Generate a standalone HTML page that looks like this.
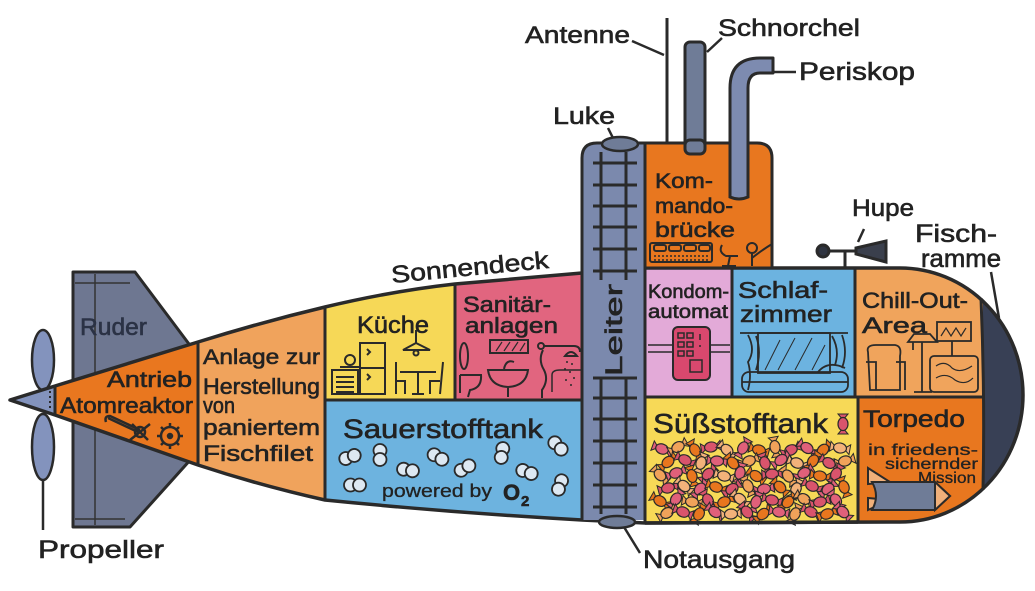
<!DOCTYPE html>
<html><head><meta charset="utf-8"><style>
html,body{margin:0;padding:0;background:#fff;}
svg{display:block;}
text{font-family:"Liberation Sans",sans-serif;fill:#222;stroke:#222;stroke-width:0.6;}
</style></head><body>
<svg width="1035" height="591" viewBox="0 0 1035 591" xmlns="http://www.w3.org/2000/svg">
<defs>
<clipPath id="hull"><path d="M10,400 L55,386 L198,342 Q262,322 325,307 Q392,291 455,284 L582,273 L645,268 L900,268 A123,127 0 0 1 900,522 L645,523 L582,520 Q455,513 325,500 Q262,486 198,465 L55,415 Z"/></clipPath>
<g id="cd"><path d="M-10,-5 L-4,0 L-10,5 Z M10,-5 L4,0 L10,5 Z" stroke="#2a2a2a" stroke-width="1"/><ellipse rx="6.5" ry="5" stroke="#2a2a2a" stroke-width="1.2"/></g>
<g id="o2"><circle cx="-4.5" cy="0" r="6.5" fill="#dde8f2" stroke="#2a2a2a" stroke-width="1.8"/><circle cx="4.5" cy="0" r="6.5" fill="#dde8f2" stroke="#2a2a2a" stroke-width="1.8"/></g>
</defs>

<!-- fin -->
<polygon points="73,272 135,272 192,348 192,458 130,527 73,527" fill="#6e7791" stroke="#2a2a2a" stroke-width="3" stroke-linejoin="round"/>
<path d="M95,274 L95,525 M75,283 L130,283 M75,519 L125,519" stroke="#333" stroke-width="1.5" fill="none"/>

<!-- propeller -->
<line x1="43" y1="478" x2="43" y2="530" stroke="#2a2a2a" stroke-width="2.5"/>
<ellipse cx="43" cy="360" rx="11" ry="30" fill="#8393bd" stroke="#2a2a2a" stroke-width="2.5"/>
<ellipse cx="43" cy="447" rx="11" ry="33" fill="#8393bd" stroke="#2a2a2a" stroke-width="2.5"/>

<!-- hull sections -->
<g clip-path="url(#hull)">
<rect x="0" y="250" width="55" height="300" fill="#8393bd"/>
<rect x="55" y="250" width="143" height="300" fill="#e9771f"/>
<rect x="198" y="250" width="127" height="300" fill="#f0a35c"/>
<rect x="325" y="250" width="130" height="150" fill="#f6d857"/>
<rect x="455" y="250" width="127" height="150" fill="#e1657f"/>
<rect x="325" y="400" width="257" height="150" fill="#6db3df"/>
<rect x="645" y="250" width="87" height="147" fill="#e3aad8"/>
<rect x="732" y="250" width="123" height="147" fill="#6cb3e0"/>
<rect x="855" y="250" width="128" height="147" fill="#f0a45c"/>
<rect x="983" y="250" width="60" height="300" fill="#384055"/>
<rect x="645" y="397" width="213" height="150" fill="#f7d957"/>
<rect x="858" y="397" width="125" height="150" fill="#e8771f"/>
</g>

<!-- dividers -->
<g stroke="#2a2a2a" stroke-width="3" fill="none">
<path d="M55,386 L55,415 M198,342 L198,465 M325,307 L325,500 M455,284 L455,400 M325,400 L582,400 M732,268 L732,397 M855,268 L855,397 M645,397 L983,397 M858,397 L858,522 M981,298 Q985,395 983,490"/>
</g>
<path d="M50,391 L50,411" stroke="#2a2a2a" stroke-width="2" stroke-dasharray="2,3"/>

<!-- hull outline -->
<path d="M10,400 L55,386 L198,342 Q262,322 325,307 Q392,291 455,284 L582,273 L645,268 L900,268 A123,127 0 0 1 900,522 L645,523 L582,520 Q455,513 325,500 Q262,486 198,465 L55,415 Z" fill="none" stroke="#2a2a2a" stroke-width="3.5" stroke-linejoin="round"/>

<!-- antenna, snorkel, periscope -->
<line x1="667" y1="18" x2="667" y2="145" stroke="#2a2a2a" stroke-width="3"/>
<rect x="685" y="42" width="20" height="112" rx="5" fill="#6f7c97" stroke="#2a2a2a" stroke-width="3"/>
<path d="M730,197 L730,88 Q730,58 760,58 L773,58 L773,73 L760,73 Q748,73 748,88 L748,197 Z" fill="#7d8bb0" stroke="#2a2a2a" stroke-width="3" stroke-linejoin="round"/>

<!-- tower -->
<path d="M645,143 L757,143 Q772,143 772,158 L772,268 L645,268 Z" fill="#e8771f" stroke="#2a2a2a" stroke-width="3"/>
<path d="M582,520 L582,158 Q582,143 597,143 L645,143 L645,520" fill="#7b89ad" stroke="#2a2a2a" stroke-width="3"/>
<rect x="700" y="150" width="10" height="6" fill="none"/>
<!-- snorkel / periscope overlap the bridge -->
<rect x="685" y="140" width="20" height="14" rx="5" fill="#6f7c97" stroke="#2a2a2a" stroke-width="3"/>
<path d="M730,140 L730,197 Q739,201 748,197 L748,140" fill="#7d8bb0" stroke="#2a2a2a" stroke-width="3"/>

<!-- ladder -->
<g stroke="#2a2a2a" stroke-width="3" fill="none">
<path d="M601,152 L601,280 M626,152 L626,280 M601,378 L601,514 M626,378 L626,514"/>
<path d="M593,163 L637,163 M593,185 L637,185 M593,206 L637,206 M593,227 L637,227 M593,249 L637,249 M593,271 L637,271 M593,378 L637,378 M593,398 L637,398 M593,419 L637,419 M593,441 L637,441 M593,463 L637,463 M593,485 L637,485 M593,507 L637,507"/>
</g>
<ellipse cx="620" cy="144" rx="18" ry="7" fill="#6f7c97" stroke="#2a2a2a" stroke-width="2.5"/>
<ellipse cx="617" cy="522" rx="18" ry="6" fill="#6f7c97" stroke="#2a2a2a" stroke-width="2.5"/>

<!-- horn -->
<g stroke="#2a2a2a" stroke-width="3" fill="#2f3440">
<line x1="845" y1="250" x2="845" y2="268"/>
<line x1="823" y1="251" x2="858" y2="251"/>
<circle cx="823" cy="251" r="6"/>
<path d="M856,248 L886,241 L886,262 L856,254 Z" fill="#3a3f4c"/>
</g>

<!-- leader lines -->
<g stroke="#2a2a2a" stroke-width="2.5" fill="none">
<path d="M632,41 L664,55 M707,52 L722,38 M774,72 L796,72 M608,128 L613,138 M858,242 L864,229 M991,272 L999,318 M624,527 L640,553"/>
</g>

<!-- outer labels -->
<text x="525" y="43" font-size="24" textLength="105" lengthAdjust="spacingAndGlyphs">Antenne</text>
<text x="718" y="36" font-size="24" textLength="142" lengthAdjust="spacingAndGlyphs">Schnorchel</text>
<text x="799" y="80" font-size="25" textLength="116" lengthAdjust="spacingAndGlyphs">Periskop</text>
<text x="553" y="124" font-size="24" textLength="62" lengthAdjust="spacingAndGlyphs">Luke</text>
<text x="852" y="216" font-size="24" textLength="62" lengthAdjust="spacingAndGlyphs">Hupe</text>
<text x="915" y="242" font-size="25" textLength="82" lengthAdjust="spacingAndGlyphs">Fisch-</text>
<text x="921" y="267" font-size="25" textLength="80" lengthAdjust="spacingAndGlyphs">ramme</text>
<text x="392" y="283" font-size="24" textLength="158" lengthAdjust="spacingAndGlyphs" transform="rotate(-5.5 392 283)">Sonnendeck</text>
<text x="38" y="558" font-size="25" textLength="126" lengthAdjust="spacingAndGlyphs">Propeller</text>
<text x="643" y="568" font-size="25" textLength="152" lengthAdjust="spacingAndGlyphs">Notausgang</text>

<!-- inner labels -->
<text x="80" y="335" font-size="24" textLength="67" lengthAdjust="spacingAndGlyphs" style="fill:#2b3245;stroke:#2b3245">Ruder</text>
<text x="107" y="387" font-size="22" textLength="85" lengthAdjust="spacingAndGlyphs">Antrieb</text>
<text x="60" y="413" font-size="22" textLength="133" lengthAdjust="spacingAndGlyphs">Atomreaktor</text>
<text x="203" y="364" font-size="21" textLength="117" lengthAdjust="spacingAndGlyphs">Anlage zur</text>
<text x="203" y="394" font-size="22" textLength="117" lengthAdjust="spacingAndGlyphs">Herstellung</text>
<text x="203" y="413" font-size="22" textLength="32" lengthAdjust="spacingAndGlyphs">von</text>
<text x="203" y="435" font-size="22" textLength="117" lengthAdjust="spacingAndGlyphs">paniertem</text>
<text x="203" y="461" font-size="22" textLength="110" lengthAdjust="spacingAndGlyphs">Fischfilet</text>
<text x="357" y="333" font-size="24" textLength="72" lengthAdjust="spacingAndGlyphs">Küche</text>
<text x="463" y="312" font-size="22" textLength="88" lengthAdjust="spacingAndGlyphs">Sanitär-</text>
<text x="465" y="333" font-size="22" textLength="93" lengthAdjust="spacingAndGlyphs">anlagen</text>
<text x="343" y="438" font-size="27" textLength="200" lengthAdjust="spacingAndGlyphs">Sauerstofftank</text>
<text x="382" y="497" font-size="18" textLength="110" lengthAdjust="spacingAndGlyphs" style="stroke-width:0.3">powered by</text>
<text x="503" y="500" font-size="22" font-weight="bold">O</text>
<text x="521" y="506" font-size="15" font-weight="bold">2</text>
<text transform="translate(622,376) rotate(-90)" font-size="24" textLength="92" lengthAdjust="spacingAndGlyphs">Leiter</text>
<text x="655" y="188" font-size="21" textLength="58" lengthAdjust="spacingAndGlyphs">Kom-</text>
<text x="655" y="213" font-size="21" textLength="78" lengthAdjust="spacingAndGlyphs">mando-</text>
<text x="655" y="237" font-size="21" textLength="80" lengthAdjust="spacingAndGlyphs">brücke</text>
<text x="648" y="298" font-size="19" textLength="81" lengthAdjust="spacingAndGlyphs">Kondom-</text>
<text x="648" y="318" font-size="19" textLength="80" lengthAdjust="spacingAndGlyphs">automat</text>
<text x="738" y="298" font-size="23" textLength="90" lengthAdjust="spacingAndGlyphs">Schlaf-</text>
<text x="740" y="322" font-size="23" textLength="92" lengthAdjust="spacingAndGlyphs">zimmer</text>
<text x="862" y="308" font-size="22" textLength="106" lengthAdjust="spacingAndGlyphs">Chill-Out-</text>
<text x="862" y="333" font-size="22" textLength="65" lengthAdjust="spacingAndGlyphs">Area</text>
<text x="653" y="433" font-size="28" textLength="175" lengthAdjust="spacingAndGlyphs">Süßstofftank</text>
<text x="863" y="427" font-size="24" textLength="102" lengthAdjust="spacingAndGlyphs">Torpedo</text>
<text x="868" y="455" font-size="16" textLength="110" lengthAdjust="spacingAndGlyphs" style="stroke-width:0.3">in friedens-</text>
<text x="885" y="469" font-size="16" textLength="93" lengthAdjust="spacingAndGlyphs" style="stroke-width:0.3">sichernder</text>
<text x="918" y="483" font-size="16" textLength="58" lengthAdjust="spacingAndGlyphs" style="stroke-width:0.3">Mission</text>

<!-- Antrieb icons -->
<g stroke="#2a2a2a" stroke-width="2.5" fill="none">
<path d="M108,418 L138,432 M106,422 Q104,416 110,416 L140,430"/>
<circle cx="140" cy="432" r="5"/>
<path d="M130,440 L150,424 M132,424 L148,440"/>
<circle cx="170" cy="436" r="9"/>
<circle cx="170" cy="436" r="2" fill="#2a2a2a"/>
<path d="M170,423 L170,427 M170,445 L170,449 M157,436 L161,436 M179,436 L183,436 M161,427 L164,430 M176,442 L179,445 M179,427 L176,430 M164,442 L161,445"/>
</g>

<!-- Küche icons -->
<g stroke="#2a2a2a" stroke-width="2" fill="none">
<rect x="332" y="370" width="26" height="24"/>
<path d="M336,377 L354,377 M336,382 L354,382 M336,387 L354,387 M336,392 L354,392"/>
<circle cx="350" cy="360" r="5"/>
<path d="M340,367 L360,367"/>
<rect x="360" y="343" width="25" height="51"/>
<path d="M360,368 L385,368 M367,349 L370,352 L367,355 M367,374 L370,377 L367,380"/>
<path d="M403,350 L416,343 L430,350 Z M416,330 L416,343"/>
<circle cx="416" cy="353" r="2.5"/>
<path d="M400,372 L436,372 M418,372 L418,394 M412,394 L424,394"/>
<path d="M396,362 L396,394 M396,381 L405,381 L405,394"/>
<path d="M443,362 L440,394 M440,381 L430,381 L430,394"/>
</g>

<!-- Sanitär icons -->
<g stroke="#2a2a2a" stroke-width="2" fill="none">
<ellipse cx="464" cy="356" rx="4" ry="13"/>
<path d="M460,375 L481,375 Q482,388 470,390 L468,397 M460,375 L460,393"/>
<rect x="490" y="340" width="38" height="13"/>
<path d="M496,351 L502,342 M504,351 L510,342 M512,351 L518,342 M520,351 L525,343" stroke-width="1.2"/>
<path d="M488,370 L528,370 Q526,386 508,387 Q490,386 488,370 Z M508,387 L508,397 M504,369 Q506,359 514,362"/>
<circle cx="541" cy="346" r="3"/>
<path d="M544,346 L574,346 Q580,346 580,352 M543,350 Q538,360 544,370 Q549,380 542,390 L542,398"/>
<path d="M565,356 Q571,348 577,356 Z"/>
<path d="M552,392 L552,375 Q552,370 560,370 L582,370" stroke-width="1.5"/>
</g>
<g fill="#2a2a2a">
<circle cx="567" cy="362" r="1"/><circle cx="572" cy="364" r="1"/><circle cx="565" cy="369" r="1"/><circle cx="570" cy="372" r="1"/><circle cx="574" cy="378" r="1"/><circle cx="566" cy="380" r="1"/><circle cx="571" cy="385" r="1"/>
</g>

<!-- O2 molecules -->
<use href="#o2" transform="translate(350,457) rotate(-20)"/>
<use href="#o2" transform="translate(380,455) rotate(90)"/>
<use href="#o2" transform="translate(408,470) rotate(10)"/>
<use href="#o2" transform="translate(438,457) rotate(30)"/>
<use href="#o2" transform="translate(465,468) rotate(-30)"/>
<use href="#o2" transform="translate(502,453) rotate(100)"/>
<use href="#o2" transform="translate(527,472) rotate(20)"/>
<use href="#o2" transform="translate(558,446) rotate(45)"/>
<use href="#o2" transform="translate(355,485) rotate(0)"/>
<use href="#o2" transform="translate(560,485) rotate(110)"/>

<!-- Kommando icons -->
<g stroke="#2a2a2a" stroke-width="2" fill="none">
<rect x="650" y="243" width="62" height="19" rx="2"/>
<rect x="654" y="245" width="12" height="6" rx="2"/>
<rect x="669" y="245" width="12" height="6" rx="2"/>
<rect x="684" y="245" width="12" height="6" rx="2"/>
<rect x="699" y="245" width="11" height="6" rx="2"/>
<path d="M654,256 L708,256 M654,260 L708,260" stroke-dasharray="2,2" stroke-width="1.5"/>
<path d="M722,245 Q718,252 726,256 L738,256 M730,256 L728,266 M722,266 L736,266"/>
<circle cx="752" cy="248" r="5"/>
<path d="M752,253 L752,266 M752,258 Q762,250 772,244"/>
</g>

<!-- Kondom icon -->
<g stroke="#2a2a2a" stroke-width="1.5" fill="none">
<path d="M648,345 L730,345 M648,352 L730,352"/>
</g>
<rect x="673" y="327" width="37" height="53" rx="5" fill="#d9486e" stroke="#2a2a2a" stroke-width="2"/>
<g stroke="#2a2a2a" stroke-width="1.5" fill="none">
<rect x="678" y="333" width="6" height="5"/><rect x="687" y="333" width="6" height="5"/>
<rect x="678" y="342" width="6" height="5"/><rect x="687" y="342" width="6" height="5"/>
<rect x="678" y="351" width="6" height="5"/><rect x="687" y="351" width="6" height="5"/>
<rect x="690" y="360" width="12" height="12"/>
<path d="M700,334 L700,340 M700,345 L700,347"/>
</g>

<!-- Schlafzimmer icons -->
<g stroke="#2a2a2a" stroke-width="1.8" fill="none">
<path d="M740,333 L848,333"/>
<rect x="758" y="333" width="72" height="40"/>
<path d="M765,370 L780,340 M778,370 L795,338 M795,370 L812,338 M812,370 L825,345" stroke-width="1"/>
<path d="M748,335 Q756,350 748,362 Q752,375 748,390 M756,336 Q762,352 756,370 M832,336 Q840,350 835,365 M842,335 Q848,352 842,368"/>
<rect x="742" y="372" width="106" height="20" rx="7"/>
<path d="M742,382 L848,382"/>
<path d="M818,372 Q828,360 845,368"/>
</g>

<!-- Chill-out icons -->
<g stroke="#2a2a2a" stroke-width="1.8" fill="none">
<path d="M868,352 Q866,345 876,345 L895,345 Q902,346 900,356 L900,390 L870,390 Z M866,362 L876,362 L876,390 M896,362 L905,362 L905,390"/>
<path d="M908,342 L937,342 L930,334 L914,334 Z M922,342 L922,392 M914,392 L932,392 M913,342 L913,350"/>
<rect x="937" y="322" width="34" height="19"/>
<path d="M941,336 L946,328 L951,336 L956,328 L961,336 L966,328" stroke-width="1.2"/>
<path d="M952,341 L952,356"/>
<rect x="930" y="356" width="48" height="36" rx="4"/>
<path d="M936,366 Q945,360 952,368 Q960,374 972,366 M936,378 Q946,372 955,380 Q965,386 973,378" stroke-width="1.2"/>
</g>

<!-- Torpedo icon -->
<g stroke="#2a2a2a" stroke-width="2">
<path d="M868,468 L890,482 L868,484 Z M868,510 L890,500 L868,498 Z" fill="#f0b07a"/>
<path d="M872,482 L935,482 L950,496 L935,510 L872,510 Q880,496 872,482 Z" fill="#6f7c97"/>
<path d="M935,482 L950,496 L935,510 Z" fill="#f0b07a"/>
</g>

<!-- candies -->
<g>
<use href="#cd" fill="#d9546c" transform="translate(843,424) rotate(90)"/>
<use href="#cd" fill="#e0607a" transform="translate(662,449) rotate(20)"/>
<use href="#cd" fill="#f0a25a" transform="translate(678,447) rotate(-30)"/>
<use href="#cd" fill="#e8761e" transform="translate(695,450) rotate(60)"/>
<use href="#cd" fill="#d9546c" transform="translate(711,447) rotate(-10)"/>
<use href="#cd" fill="#f3b27a" transform="translate(727,450) rotate(40)"/>
<use href="#cd" fill="#e0607a" transform="translate(743,448) rotate(-60)"/>
<use href="#cd" fill="#e8761e" transform="translate(759,450) rotate(15)"/>
<use href="#cd" fill="#f0a25a" transform="translate(775,447) rotate(80)"/>
<use href="#cd" fill="#d9546c" transform="translate(791,450) rotate(-25)"/>
<use href="#cd" fill="#e0607a" transform="translate(807,448) rotate(35)"/>
<use href="#cd" fill="#e8761e" transform="translate(823,450) rotate(-45)"/>
<use href="#cd" fill="#f3b27a" transform="translate(840,448) rotate(10)"/>
<use href="#cd" fill="#e8761e" transform="translate(668,462) rotate(-40)"/>
<use href="#cd" fill="#d9546c" transform="translate(685,460) rotate(25)"/>
<use href="#cd" fill="#f3b27a" transform="translate(701,463) rotate(-70)"/>
<use href="#cd" fill="#e0607a" transform="translate(717,461) rotate(5)"/>
<use href="#cd" fill="#e8761e" transform="translate(733,463) rotate(50)"/>
<use href="#cd" fill="#f0a25a" transform="translate(749,461) rotate(-20)"/>
<use href="#cd" fill="#d9546c" transform="translate(765,463) rotate(70)"/>
<use href="#cd" fill="#e0607a" transform="translate(781,460) rotate(-35)"/>
<use href="#cd" fill="#f3b27a" transform="translate(797,463) rotate(20)"/>
<use href="#cd" fill="#e8761e" transform="translate(813,461) rotate(-55)"/>
<use href="#cd" fill="#d9546c" transform="translate(829,463) rotate(30)"/>
<use href="#cd" fill="#f0a25a" transform="translate(845,461) rotate(-15)"/>
<use href="#cd" fill="#f0a25a" transform="translate(660,475) rotate(45)"/>
<use href="#cd" fill="#e0607a" transform="translate(676,473) rotate(-20)"/>
<use href="#cd" fill="#e8761e" transform="translate(692,476) rotate(75)"/>
<use href="#cd" fill="#d9546c" transform="translate(708,474) rotate(-45)"/>
<use href="#cd" fill="#f3b27a" transform="translate(724,476) rotate(15)"/>
<use href="#cd" fill="#e0607a" transform="translate(740,473) rotate(-75)"/>
<use href="#cd" fill="#e8761e" transform="translate(756,476) rotate(35)"/>
<use href="#cd" fill="#d9546c" transform="translate(772,474) rotate(-5)"/>
<use href="#cd" fill="#f0a25a" transform="translate(788,476) rotate(55)"/>
<use href="#cd" fill="#e0607a" transform="translate(804,473) rotate(-30)"/>
<use href="#cd" fill="#e8761e" transform="translate(820,476) rotate(10)"/>
<use href="#cd" fill="#d9546c" transform="translate(836,474) rotate(-60)"/>
<use href="#cd" fill="#d9546c" transform="translate(668,488) rotate(-15)"/>
<use href="#cd" fill="#f3b27a" transform="translate(684,486) rotate(40)"/>
<use href="#cd" fill="#e0607a" transform="translate(700,489) rotate(-50)"/>
<use href="#cd" fill="#e8761e" transform="translate(716,487) rotate(20)"/>
<use href="#cd" fill="#d9546c" transform="translate(732,489) rotate(-35)"/>
<use href="#cd" fill="#f0a25a" transform="translate(748,486) rotate(65)"/>
<use href="#cd" fill="#e0607a" transform="translate(764,489) rotate(-10)"/>
<use href="#cd" fill="#e8761e" transform="translate(780,487) rotate(45)"/>
<use href="#cd" fill="#f3b27a" transform="translate(796,489) rotate(-65)"/>
<use href="#cd" fill="#d9546c" transform="translate(812,486) rotate(25)"/>
<use href="#cd" fill="#e0607a" transform="translate(828,489) rotate(-40)"/>
<use href="#cd" fill="#e8761e" transform="translate(844,487) rotate(70)"/>
<use href="#cd" fill="#e8761e" transform="translate(660,501) rotate(30)"/>
<use href="#cd" fill="#e0607a" transform="translate(676,499) rotate(-55)"/>
<use href="#cd" fill="#f0a25a" transform="translate(692,502) rotate(10)"/>
<use href="#cd" fill="#d9546c" transform="translate(708,500) rotate(60)"/>
<use href="#cd" fill="#e8761e" transform="translate(724,502) rotate(-25)"/>
<use href="#cd" fill="#f3b27a" transform="translate(740,499) rotate(40)"/>
<use href="#cd" fill="#e0607a" transform="translate(756,502) rotate(-70)"/>
<use href="#cd" fill="#d9546c" transform="translate(772,500) rotate(15)"/>
<use href="#cd" fill="#e8761e" transform="translate(788,502) rotate(-45)"/>
<use href="#cd" fill="#f0a25a" transform="translate(804,499) rotate(30)"/>
<use href="#cd" fill="#d9546c" transform="translate(820,502) rotate(-15)"/>
<use href="#cd" fill="#e0607a" transform="translate(836,500) rotate(55)"/>
<use href="#cd" fill="#f0a25a" transform="translate(667,513) rotate(-30)"/>
<use href="#cd" fill="#d9546c" transform="translate(683,512) rotate(20)"/>
<use href="#cd" fill="#e8761e" transform="translate(699,514) rotate(-60)"/>
<use href="#cd" fill="#e0607a" transform="translate(715,512) rotate(35)"/>
<use href="#cd" fill="#f3b27a" transform="translate(731,514) rotate(-5)"/>
<use href="#cd" fill="#d9546c" transform="translate(747,512) rotate(50)"/>
<use href="#cd" fill="#e8761e" transform="translate(763,514) rotate(-40)"/>
<use href="#cd" fill="#e0607a" transform="translate(779,512) rotate(10)"/>
<use href="#cd" fill="#f0a25a" transform="translate(795,514) rotate(-65)"/>
<use href="#cd" fill="#d9546c" transform="translate(811,512) rotate(25)"/>
<use href="#cd" fill="#e8761e" transform="translate(827,514) rotate(-20)"/>
<use href="#cd" fill="#e0607a" transform="translate(843,512) rotate(45)"/>
</g>
<!-- redraw bottom line over candies -->
<path d="M645,523 L858,522" stroke="#2a2a2a" stroke-width="3.5"/>
<path d="M858,397 L858,522 M645,397 L645,523" stroke="#2a2a2a" stroke-width="3"/>
</svg>
</body></html>
